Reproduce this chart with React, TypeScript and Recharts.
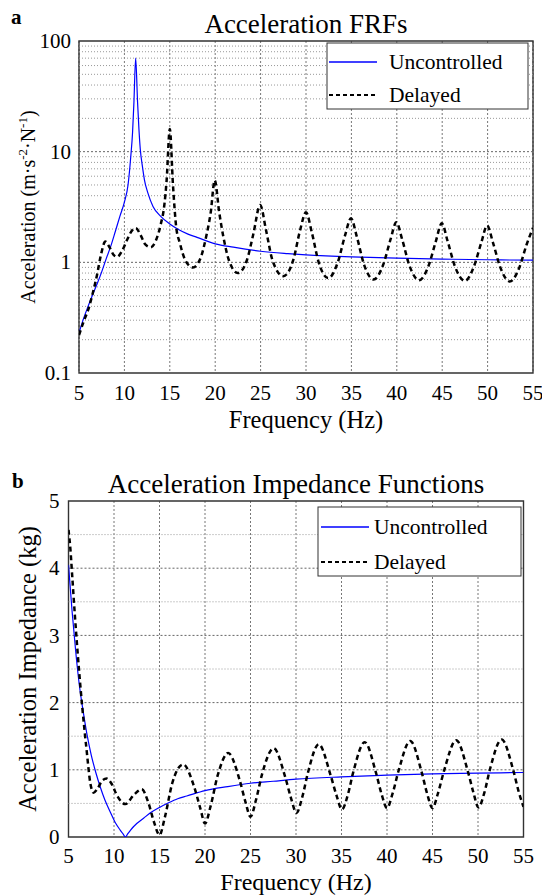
import React from 'react'
import { LineChart, Line, XAxis, YAxis, CartesianGrid, ReferenceLine, ReferenceArea } from 'recharts'

const SERIF = '"Liberation Serif", "Times New Roman", Times, serif'

const SERIES = ['Uncontrolled', 'Delayed']

// shared frequency ticks (Hz)
const freqTicks = [5, 10, 15, 20, 25, 30, 35, 40, 45, 50, 55]

// panel a: acceleration FRFs (log axis)
const frfMajor = [0.1, 1, 10, 100]
const frfMinor = [0.2, 0.3, 0.4, 0.5, 0.6, 0.7, 0.8, 0.9, 2, 3, 4, 5, 6, 7, 8, 9, 20, 30, 40, 50, 60, 70, 80, 90]

const frfUncFreq = [5, 5.5, 6, 6.5, 7, 7.5, 8, 8.5, 9, 9.5, 10, 10.4, 10.7, 10.9, 11.05, 11.24, 11.45, 11.6, 11.75, 12, 12.2, 12.6, 13.15, 14, 15, 16, 17, 18, 20, 22, 25, 28, 30, 35, 40, 45, 50, 55]
const frfUncVal = [0.23, 0.31, 0.4, 0.51, 0.64, 0.82, 1.08, 1.4, 1.9, 2.6, 3.5, 5.0, 9.0, 15, 28, 70, 28, 16, 10.5, 7.2, 5.6, 4.2, 3.2, 2.6, 2.22, 1.97, 1.8, 1.68, 1.47, 1.37, 1.26, 1.2, 1.17, 1.12, 1.09, 1.07, 1.055, 1.045]

const frfDelFreq = [5, 5.5, 6, 6.5, 7, 7.4, 7.9, 8.4, 8.8, 9.2, 9.7, 10.3, 10.8, 11.25, 11.8, 12.3, 12.9, 13.5, 14.0, 14.4, 14.65, 15.0, 15.35, 15.7, 16.1, 16.7, 17.55, 18.4, 19.0, 19.5, 19.95, 20.45, 20.9, 21.5, 22.5, 23.5, 24.2, 24.95, 25.6, 26.3, 27.5, 28.6, 29.35, 30.0, 30.65, 31.4, 32.45, 33.5, 34.3, 34.95, 35.6, 36.4, 37.45, 38.5, 39.3, 39.95, 40.6, 41.4, 42.45, 43.5, 44.3, 44.95, 45.6, 46.4, 47.5, 48.5, 49.3, 49.95, 50.6, 51.4, 52.45, 53.5, 54.3, 55]
const frfDelVal = [0.22, 0.29, 0.37, 0.52, 0.78, 1.15, 1.54, 1.35, 1.17, 1.12, 1.25, 1.6, 1.92, 2.04, 1.75, 1.45, 1.37, 1.6, 2.2, 3.3, 5.5, 16, 5.0, 2.1, 1.5, 1.05, 0.9, 1.1, 1.7, 2.8, 5.5, 2.8, 1.7, 1.05, 0.8, 1.05, 1.8, 3.3, 1.95, 1.05, 0.75, 1.05, 1.95, 2.83, 1.85, 1.0, 0.72, 1.0, 1.75, 2.5, 1.7, 0.95, 0.7, 0.95, 1.6, 2.3, 1.6, 0.93, 0.69, 0.93, 1.55, 2.25, 1.55, 0.92, 0.68, 0.92, 1.5, 2.15, 1.5, 0.9, 0.67, 0.9, 1.45, 2.05]

// panel b: acceleration impedance (kg)
const impMajor = [0, 1, 2, 3, 4, 5]
const impMinor = [0.5, 1.5, 2.5, 3.5, 4.5]

const impUncFreq = [5, 5.4, 5.8, 6.2, 6.6, 7, 7.5, 8, 8.5, 9, 9.6, 10.2, 10.7, 11.0, 11.25, 11.5, 11.8, 12.5, 13.25, 14, 15, 16, 17, 18, 20, 22.5, 25, 27.5, 30, 35, 40, 45, 50, 55]
const impUncVal = [4.05, 3.35, 2.75, 2.25, 1.88, 1.55, 1.22, 0.96, 0.74, 0.55, 0.37, 0.2, 0.1, 0.045, 0, 0.045, 0.1, 0.2, 0.28, 0.36, 0.44, 0.51, 0.57, 0.61, 0.69, 0.75, 0.8, 0.83, 0.86, 0.895, 0.92, 0.94, 0.95, 0.96]

const impDelFreq = [5, 5.2, 5.4, 5.7, 6.0, 6.5, 7.0, 7.4, 7.75, 8.2, 8.7, 9.2, 9.7, 10.4, 11.25, 12.2, 13.05, 13.8, 14.4, 15.0, 15.6, 16.4, 17.6, 18.8, 19.5, 20.0, 20.6, 21.4, 22.55, 23.8, 24.45, 25.0, 25.6, 26.3, 27.55, 28.8, 29.45, 30.05, 30.7, 31.3, 32.5, 33.8, 34.45, 35.05, 35.7, 36.3, 37.55, 38.8, 39.4, 40.0, 40.6, 41.3, 42.55, 43.8, 44.4, 45.0, 45.6, 46.3, 47.6, 48.9, 49.5, 50.05, 50.7, 51.3, 52.6, 53.9, 54.5, 55]
const impDelVal = [4.57, 4.3, 3.9, 3.3, 2.75, 1.95, 1.28, 0.8, 0.66, 0.72, 0.84, 0.87, 0.8, 0.6, 0.49, 0.63, 0.71, 0.5, 0.22, 0.03, 0.3, 0.8, 1.08, 0.75, 0.42, 0.2, 0.45, 0.92, 1.25, 0.85, 0.52, 0.3, 0.55, 0.95, 1.32, 0.9, 0.58, 0.36, 0.6, 0.95, 1.38, 0.92, 0.62, 0.41, 0.63, 0.97, 1.41, 0.95, 0.64, 0.43, 0.64, 1.0, 1.43, 0.97, 0.65, 0.43, 0.65, 1.0, 1.44, 0.97, 0.66, 0.44, 0.66, 1.0, 1.45, 0.98, 0.66, 0.45]

const zip = (f: number[], v: number[]) => f.map((x, i) => ({ f: x, v: v[i] }))

const BLUE = '#0000ff'

// serif tick labels (the default tick text ignores the font family)
const XTick = (props: any) => (
    <text x={props.x} y={props.y} dy="0.71em" textAnchor="middle" fontSize={21} fontFamily={SERIF} fill="#000">
        {props.payload.value}
    </text>
)
const YTick = (props: any) => (
    <text x={props.x} y={props.y} dy="0.34em" textAnchor="end" fontSize={21} fontFamily={SERIF} fill="#000">
        {props.payload.value}
    </text>
)

function FrfChart() {
    return (
        <LineChart width={542} height={448} margin={{ top: 41, right: 9, bottom: 0, left: 0 }}>
            <CartesianGrid horizontal={false} stroke="#777" strokeDasharray="2 2" />
            {frfMinor.map((v) => (
                <ReferenceLine key={`m${v}`} y={v} stroke="#999" strokeDasharray="1 2" />
            ))}
            {[1, 10].map((v) => (
                <ReferenceLine key={`M${v}`} y={v} stroke="#666" strokeDasharray="2 2" />
            ))}
            <XAxis type="number" dataKey="f" domain={[5, 55]} ticks={freqTicks} allowDataOverflow
                height={75} tickLine={false} axisLine={false} tickMargin={6} tick={<XTick />} />
            <YAxis type="number" scale="log" domain={[0.1, 100]} ticks={frfMajor} allowDataOverflow
                width={79} tickLine={false} axisLine={false} tick={<YTick />} />
            <ReferenceArea x1={5} x2={55} y1={0.1} y2={100} fill="none" stroke="#333" strokeWidth={1.4} ifOverflow="visible" />
            <Line data={zip(frfUncFreq, frfUncVal)} dataKey="v" name={SERIES[0]} type="monotone"
                stroke={BLUE} strokeWidth={1.2} dot={false} isAnimationActive={false} />
            <Line data={zip(frfDelFreq, frfDelVal)} dataKey="v" name={SERIES[1]} type="monotone"
                stroke="#000" strokeWidth={2.5} strokeDasharray="5 3.5" dot={false} isAnimationActive={false} />
        </LineChart>
    )
}

function ImpedanceChart() {
    return (
        <LineChart width={542} height={448} margin={{ top: 53, right: 18.5, bottom: 0, left: 0 }}>
            <CartesianGrid horizontal={false} stroke="#777" strokeDasharray="2 2" />
            {impMinor.map((v) => (
                <ReferenceLine key={`m${v}`} y={v} stroke="#999" strokeDasharray="1 2" />
            ))}
            {[1, 2, 3, 4].map((v) => (
                <ReferenceLine key={`M${v}`} y={v} stroke="#666" strokeDasharray="2 2" />
            ))}
            <XAxis type="number" dataKey="f" domain={[5, 55]} ticks={freqTicks} allowDataOverflow
                height={59} tickLine={false} axisLine={false} tickMargin={5} tick={<XTick />} />
            <YAxis type="number" domain={[0, 5]} ticks={impMajor} allowDataOverflow
                width={68.5} tickLine={false} axisLine={false} tickMargin={3} tick={<YTick />} />
            <ReferenceArea x1={5} x2={55} y1={0} y2={5} fill="none" stroke="#333" strokeWidth={1.4} ifOverflow="visible" />
            <Line data={zip(impUncFreq, impUncVal)} dataKey="v" name={SERIES[0]} type="monotone"
                stroke={BLUE} strokeWidth={1.2} dot={false} isAnimationActive={false} />
            <Line data={zip(impDelFreq, impDelVal)} dataKey="v" name={SERIES[1]} type="monotone"
                stroke="#000" strokeWidth={2.5} strokeDasharray="5 3.5" dot={false} isAnimationActive={false} />
        </LineChart>
    )
}

// legend frame with the two series keys
function KeyBox({ x, y, w, h, row1, row2, lx1, lx2, tx }: any) {
    return (
        <g>
            <rect x={x} y={y} width={w} height={h} fill="#fff" stroke="#333" strokeWidth={1} />
            <line x1={lx1} x2={lx2} y1={row1} y2={row1} stroke={BLUE} strokeWidth={1.3} />
            <text x={tx} y={row1 + 7} fontSize={21.5}>{SERIES[0]}</text>
            <line x1={lx1} x2={lx2} y1={row2} y2={row2} stroke="#000" strokeWidth={1.8} strokeDasharray="4 3" />
            <text x={tx} y={row2 + 7} fontSize={21.5}>{SERIES[1]}</text>
        </g>
    )
}

export default function App() {
    return (
        <div style={{ position: 'absolute', left: 0, top: 0, width: 542, height: 896, background: '#fff', fontFamily: SERIF }}>
            <div style={{ position: 'absolute', left: 0, top: 0 }}>
                <FrfChart />
            </div>
            <div style={{ position: 'absolute', left: 0, top: 448 }}>
                <ImpedanceChart />
            </div>
            <svg width={542} height={896} style={{ position: 'absolute', left: 0, top: 0, pointerEvents: 'none' }}
                fontFamily={SERIF} fill="#000">
                {/* panel a */}
                <text x={11} y={24} fontSize={21} fontWeight="bold">a</text>
                <text x={306} y={33} fontSize={27} textAnchor="middle">Acceleration FRFs</text>
                <KeyBox x={327} y={43} w={201} h={66} row1={62} row2={95} lx1={329} lx2={377} tx={389} />
                <text x={306} y={428} fontSize={24.5} textAnchor="middle">Frequency (Hz)</text>
                <text transform="translate(28,207) rotate(-90)" x={0} y={7} fontSize={20} textAnchor="middle">
                    Acceleration (m·s<tspan dy={-8} fontSize={13}>-2</tspan><tspan dy={8}>·N</tspan><tspan dy={-8} fontSize={13}>-1</tspan><tspan dy={8}>)</tspan>
                </text>

                {/* panel b */}
                <text x={12} y={488} fontSize={21} fontWeight="bold">b</text>
                <text x={296} y={493} fontSize={27} textAnchor="middle">Acceleration Impedance Functions</text>
                <KeyBox x={318} y={507} w={203} h={69} row1={527} row2={562} lx1={321} lx2={369} tx={374} />
                <text x={296} y={890} fontSize={24} textAnchor="middle">Frequency (Hz)</text>
                <text transform="translate(27,669) rotate(-90)" x={0} y={8.5} fontSize={24.5} textAnchor="middle">
                    Acceleration Impedance (kg)
                </text>
            </svg>
        </div>
    )
}
